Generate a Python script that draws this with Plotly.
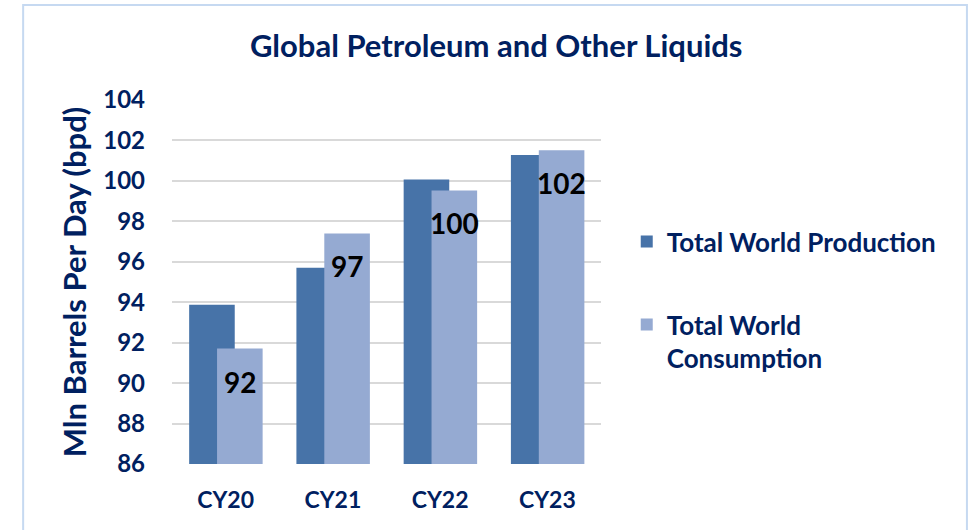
import plotly.graph_objects as go

years = ["CY20", "CY21", "CY22", "CY23"]
production = [93.87, 95.70, 100.07, 101.28]
consumption = [91.71, 97.40, 99.53, 101.51]
label_values = [round(v) for v in consumption]

navy = "#002060"
font_name = "Lato"

bar_w = 0.425
prod_off = -0.34
cons_off = -0.08

fig = go.Figure()
fig.add_trace(go.Bar(x=years, y=production, name="<b>Total World Production</b>",
                     marker=dict(color="#4773a8", line=dict(width=0)),
                     width=bar_w, offset=prod_off,
                     legendgroup="p", hoverinfo="skip"))
fig.add_trace(go.Bar(x=years, y=consumption, name="<b>Total World<br>Consumption</b>",
                     marker=dict(color="#95aad2", line=dict(width=0)),
                     width=bar_w, offset=cons_off,
                     legendgroup="c", hoverinfo="skip"))

# data labels sitting inside the consumption bars
for i, (v, lab) in enumerate(zip(consumption, label_values)):
    fig.add_annotation(x=i + cons_off + bar_w / 2, y=v, text="<b>%d</b>" % lab,
                       showarrow=False, yshift=-33, yanchor="middle",
                       font=dict(family=font_name, size=28, color="black"))

# light blue frame round the chart
fig.add_shape(type="rect", xref="paper", yref="paper",
              x0=-0.347, x1=1.853, y0=-0.3, y1=1.261,
              line=dict(color="#c6d9f1", width=2), layer="below")

fig.update_layout(
    width=971, height=530,
    margin=dict(l=172, r=370, t=100, b=66, autoexpand=False),
    paper_bgcolor="white", plot_bgcolor="white",
    barmode="overlay",
    title=dict(text="<b>Global Petroleum and Other Liquids</b>",
               x=0.511, xanchor="center", y=0.913, yanchor="middle",
               font=dict(family=font_name, size=31, color=navy)),
    legend=dict(x=1.06, xanchor="left", y=0.45, yanchor="middle",
                traceorder="grouped", tracegroupgap=46, valign="top",
                itemwidth=30,
                font=dict(family=font_name, size=26, color=navy),
                bgcolor="rgba(0,0,0,0)"),
    showlegend=True,
)
fig.update_xaxes(showgrid=False, zeroline=False, showline=False, ticks="",
                 ticklabelstandoff=20, automargin=False,
                 tickfont=dict(family=font_name, size=23, color=navy),
                 tickprefix="<b>", ticksuffix="</b>")
fig.update_yaxes(range=[86, 104], dtick=2, showgrid=True, gridcolor="#d9d9d9",
                 gridwidth=2, zeroline=False, showline=False, ticks="",
                 ticklabelstandoff=26, automargin=False,
                 tickfont=dict(family=font_name, size=24, color=navy),
                 tickprefix="<b>", ticksuffix="</b>",
                 title=dict(text="<b>Mln Barrels Per Day (bpd)</b>", standoff=7,
                            font=dict(family=font_name, size=31, color=navy)))

# page body has an 8px margin by default, drop it so the chart sits at 0,0
fig.write_html("out.html", config={"displayModeBar": False},
               post_script="document.body.style.margin='0';")
